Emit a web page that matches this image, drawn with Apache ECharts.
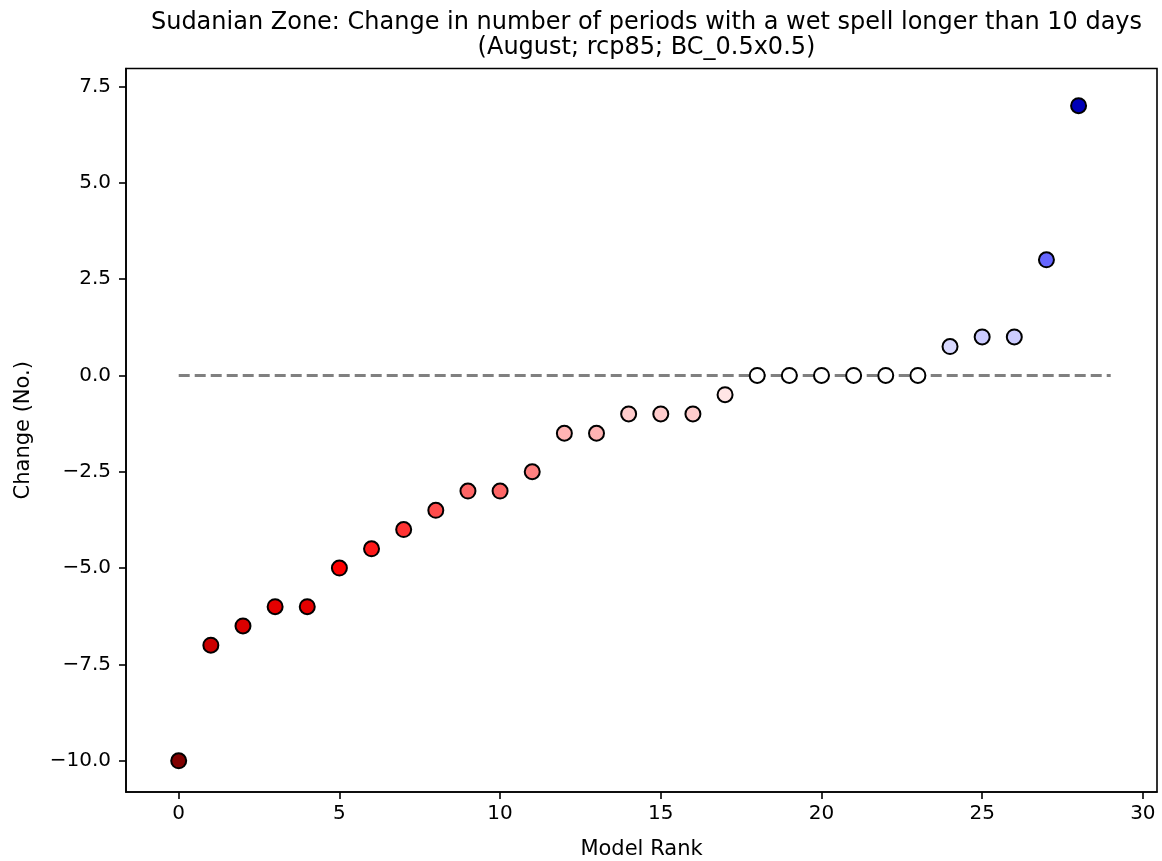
<!DOCTYPE html>
<html>
<head>
<meta charset="utf-8">
<script src="https://cdn.jsdelivr.net/npm/echarts@6/dist/echarts.min.js"></script>
<style>
  html, body { margin: 0; padding: 0; background: #fff; }
  #chart { width: 1162px; height: 861px; }
</style>
</head>
<body>
<div id="chart"></div>
<script>
// model ranks and change values
const ranks = [0, 1, 2, 3, 4, 5, 6, 7, 8, 9, 10, 11, 12, 13, 14, 15, 16, 17, 18, 19, 20, 21, 22, 23, 24, 25, 26, 27, 28];
const changes = [-10, -7, -6.5, -6, -6, -5, -4.5, -4, -3.5, -3, -3, -2.5, -1.5, -1.5, -1, -1, -1, -0.5,
  0, 0, 0, 0, 0, 0, 0.75, 1, 1, 3, 7];
const xTicks = [0, 5, 10, 15, 20, 25, 30];
const yTicks = [-10, -7.5, -5, -2.5, 0, 2.5, 5, 7.5];
// zero reference line spans these ranks
const refLineX = [0, 29];
const refLineY = 0;

const FONT = 'DejaVu Sans';

// matplotlib seismic, reversed (negative -> red, positive -> blue)
const seismicStops = [[0, 0, 0.3], [0, 0, 1], [1, 1, 1], [1, 0, 0], [0.5, 0, 0]];
const seismicR = (v) => {
  let t = 1 - (v + 10) / 20;
  t = Math.max(0, Math.min(1, t));
  const p = t * 4;
  const i = Math.min(3, Math.floor(p));
  const f = p - i;
  const a = seismicStops[i], b = seismicStops[i + 1];
  const c = a.map((x, k) => Math.round((x + (b[k] - x) * f) * 255));
  return `rgb(${c[0]},${c[1]},${c[2]})`;
};

const axisLine = { show: true, onZero: false, lineStyle: { color: '#000', width: 1.6 } };

const chart = echarts.init(document.getElementById('chart'));
const option = {
  animation: false,
  title: {
    text: 'Sudanian Zone: Change in number of periods with a wet spell longer than 10 days\n(August; rcp85; BC_0.5x0.5)',
    left: 641.5,
    top: 5,
    textAlign: 'center',
    textStyle: {
      fontFamily: FONT,
      fontSize: 24,
      fontWeight: 'normal',
      color: '#000',
      lineHeight: 25,
    },
  },
  grid: {
    left: 126,
    right: 5,
    top: 68.5,
    bottom: 69,
    show: true,
    borderColor: '#000',
    borderWidth: 1.6,
    containLabel: false,
    outerBoundsMode: 'none',
  },
  xAxis: {
    type: 'value',
    min: -1.64,
    max: 30.44,
    name: 'Model Rank',
    nameLocation: 'middle',
    nameGap: 47,
    nameTextStyle: { fontFamily: FONT, fontSize: 21, color: '#000' },
    axisLine,
    splitLine: { show: false },
    axisTick: {
      show: true,
      inside: false,
      length: 7,
      customValues: xTicks,
      lineStyle: { color: '#000', width: 1.6 },
    },
    axisLabel: {
      customValues: xTicks,
      margin: 12,
      fontFamily: FONT,
      fontSize: 20,
      color: '#000',
    },
  },
  yAxis: {
    type: 'value',
    min: -10.81,
    max: 7.965,
    name: 'Change (No.)',
    nameLocation: 'middle',
    nameGap: 92,
    nameRotate: 90,
    nameTextStyle: { fontFamily: FONT, fontSize: 21, color: '#000' },
    axisLine,
    splitLine: { show: false },
    axisTick: {
      show: true,
      inside: false,
      length: 7,
      customValues: yTicks,
      lineStyle: { color: '#000', width: 1.6 },
    },
    axisLabel: {
      customValues: yTicks,
      margin: 15,
      fontFamily: FONT,
      fontSize: 20,
      color: '#000',
      formatter: (v) => v.toFixed(1).replace('-', '\u2212'),
    },
  },
  series: [
    {
      type: 'line',
      data: refLineX.map((x) => [x, refLineY]),
      symbol: 'none',
      z: 1,
      lineStyle: { color: '#808080', width: 3, type: [11, 5] },
    },
    {
      type: 'scatter',
      z: 3,
      data: ranks.map((r, i) => [r, changes[i]]),
      symbolSize: 15,
      itemStyle: {
        color: (p) => seismicR(p.value[1]),
        borderColor: '#000',
        borderWidth: 2,
        opacity: 1,
      },
    },
  ],
};
chart.setOption(option);
</script>
</body>
</html>
